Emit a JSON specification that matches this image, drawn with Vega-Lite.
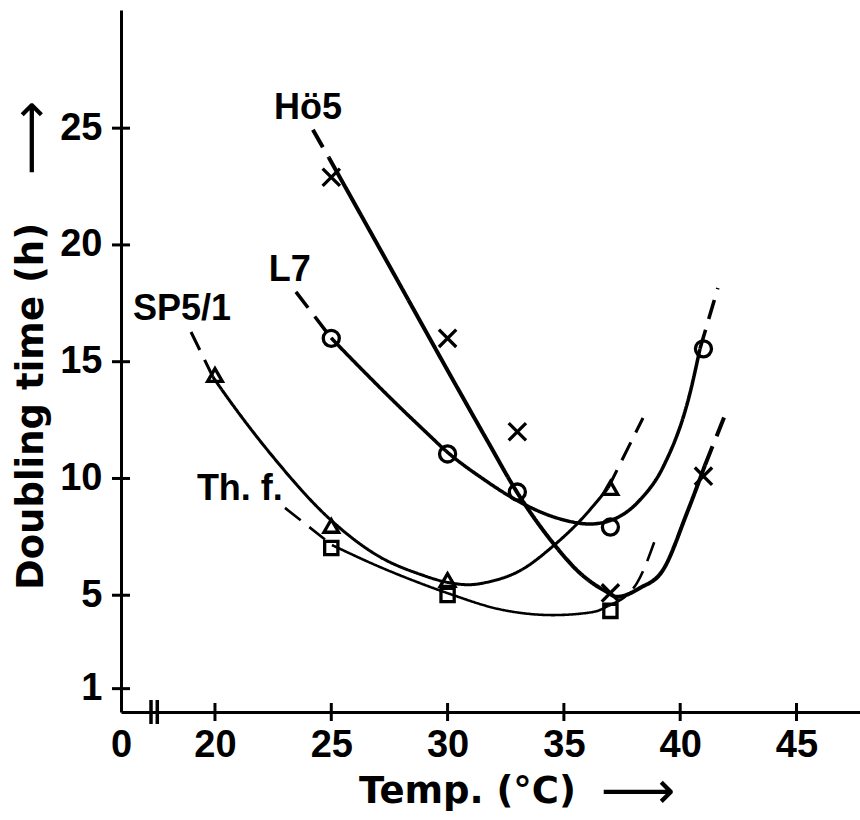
{
  "$schema": "https://vega.github.io/schema/vega-lite/v6.json",
  "width": 739,
  "height": 702,
  "autosize": {"type": "none"},
  "padding": {"left": 121, "top": 10, "right": 0, "bottom": 108},
  "background": "white",
  "config": {"view": {"stroke": null}},
  "datasets": {
    "curves": [
      {"series": "Hö5", "seg": "Hö5-a", "part": "dashed", "temp": 24.21, "time": 24.93},
      {"series": "Hö5", "seg": "Hö5-a", "part": "dashed", "temp": 24.90, "time": 23.73},
      {"series": "Hö5", "seg": "Hö5-b", "part": "solid", "temp": 24.90, "time": 23.73},
      {"series": "Hö5", "seg": "Hö5-b", "part": "solid", "temp": 27.50, "time": 19.10},
      {"series": "Hö5", "seg": "Hö5-b", "part": "solid", "temp": 30.23, "time": 14.22},
      {"series": "Hö5", "seg": "Hö5-b", "part": "solid", "temp": 31.69, "time": 11.65},
      {"series": "Hö5", "seg": "Hö5-b", "part": "solid", "temp": 32.98, "time": 9.42},
      {"series": "Hö5", "seg": "Hö5-b", "part": "solid", "temp": 34.53, "time": 7.24},
      {"series": "Hö5", "seg": "Hö5-b", "part": "solid", "temp": 35.69, "time": 5.95},
      {"series": "Hö5", "seg": "Hö5-b", "part": "solid", "temp": 36.85, "time": 5.14},
      {"series": "Hö5", "seg": "Hö5-b", "part": "solid", "temp": 37.28, "time": 4.93},
      {"series": "Hö5", "seg": "Hö5-b", "part": "solid", "temp": 38.27, "time": 5.31},
      {"series": "Hö5", "seg": "Hö5-b", "part": "solid", "temp": 39.26, "time": 6.08},
      {"series": "Hö5", "seg": "Hö5-b", "part": "solid", "temp": 40.29, "time": 8.52},
      {"series": "Hö5", "seg": "Hö5-b", "part": "solid", "temp": 41.07, "time": 10.58},
      {"series": "Hö5", "seg": "Hö5-c", "part": "dashed", "temp": 41.07, "time": 10.58},
      {"series": "Hö5", "seg": "Hö5-c", "part": "dashed", "temp": 41.93, "time": 12.72},

      {"series": "L7", "seg": "L7-a", "part": "dashed", "temp": 23.48, "time": 17.99},
      {"series": "L7", "seg": "L7-a", "part": "dashed", "temp": 24.99, "time": 16.02},
      {"series": "L7", "seg": "L7-b", "part": "solid", "temp": 24.99, "time": 16.02},
      {"series": "L7", "seg": "L7-b", "part": "solid", "temp": 26.5, "time": 14.48},
      {"series": "L7", "seg": "L7-b", "part": "solid", "temp": 28.0, "time": 13.0},
      {"series": "L7", "seg": "L7-b", "part": "solid", "temp": 29.0, "time": 12.05},
      {"series": "L7", "seg": "L7-b", "part": "solid", "temp": 30.0, "time": 11.12},
      {"series": "L7", "seg": "L7-b", "part": "solid", "temp": 31.5, "time": 10.0},
      {"series": "L7", "seg": "L7-b", "part": "solid", "temp": 33.11, "time": 8.99},
      {"series": "L7", "seg": "L7-b", "part": "solid", "temp": 34.83, "time": 8.27},
      {"series": "L7", "seg": "L7-b", "part": "solid", "temp": 36.12, "time": 8.05},
      {"series": "L7", "seg": "L7-b", "part": "solid", "temp": 37.0, "time": 8.2},
      {"series": "L7", "seg": "L7-b", "part": "solid", "temp": 38.27, "time": 9.08},
      {"series": "L7", "seg": "L7-b", "part": "solid", "temp": 39.27, "time": 10.5},
      {"series": "L7", "seg": "L7-b", "part": "solid", "temp": 40.42, "time": 13.65},
      {"series": "L7", "seg": "L7-b", "part": "solid", "temp": 40.85, "time": 15.55},
      {"series": "L7", "seg": "L7-c", "part": "dashed", "temp": 40.85, "time": 15.55},
      {"series": "L7", "seg": "L7-c", "part": "dashed", "temp": 41.62, "time": 18.16},

      {"series": "SP5/1", "seg": "SP-a", "part": "dashed", "temp": 18.97, "time": 16.27},
      {"series": "SP5/1", "seg": "SP-a", "part": "dashed", "temp": 19.91, "time": 14.35},
      {"series": "SP5/1", "seg": "SP-b", "part": "solid", "temp": 19.91, "time": 14.35},
      {"series": "SP5/1", "seg": "SP-b", "part": "solid", "temp": 20.21, "time": 13.92},
      {"series": "SP5/1", "seg": "SP-b", "part": "solid", "temp": 22.36, "time": 11.09},
      {"series": "SP5/1", "seg": "SP-b", "part": "solid", "temp": 25.07, "time": 8.14},
      {"series": "SP5/1", "seg": "SP-b", "part": "solid", "temp": 27.09, "time": 6.64},
      {"series": "SP5/1", "seg": "SP-b", "part": "solid", "temp": 28.81, "time": 5.9},
      {"series": "SP5/1", "seg": "SP-b", "part": "solid", "temp": 30.0, "time": 5.55},
      {"series": "SP5/1", "seg": "SP-b", "part": "solid", "temp": 30.9, "time": 5.45},
      {"series": "SP5/1", "seg": "SP-b", "part": "solid", "temp": 31.8, "time": 5.58},
      {"series": "SP5/1", "seg": "SP-b", "part": "solid", "temp": 33.11, "time": 6.05},
      {"series": "SP5/1", "seg": "SP-b", "part": "solid", "temp": 34.53, "time": 7.1},
      {"series": "SP5/1", "seg": "SP-b", "part": "solid", "temp": 35.56, "time": 8.05},
      {"series": "SP5/1", "seg": "SP-b", "part": "solid", "temp": 36.9, "time": 9.59},
      {"series": "SP5/1", "seg": "SP-c", "part": "dashed", "temp": 36.9, "time": 9.59},
      {"series": "SP5/1", "seg": "SP-c", "part": "dashed", "temp": 38.40, "time": 12.59},

      {"series": "Th. f.", "seg": "Th-a", "part": "dashed", "temp": 23.01, "time": 8.74},
      {"series": "Th. f.", "seg": "Th-a", "part": "dashed", "temp": 25.03, "time": 7.15},
      {"series": "Th. f.", "seg": "Th-b", "part": "solid", "temp": 25.03, "time": 7.15},
      {"series": "Th. f.", "seg": "Th-b", "part": "solid", "temp": 27.09, "time": 6.21},
      {"series": "Th. f.", "seg": "Th-b", "part": "solid", "temp": 28.81, "time": 5.52},
      {"series": "Th. f.", "seg": "Th-b", "part": "solid", "temp": 29.97, "time": 5.10},
      {"series": "Th. f.", "seg": "Th-b", "part": "solid", "temp": 32.38, "time": 4.37},
      {"series": "Th. f.", "seg": "Th-b", "part": "solid", "temp": 34.53, "time": 4.15},
      {"series": "Th. f.", "seg": "Th-b", "part": "solid", "temp": 36.25, "time": 4.28},
      {"series": "Th. f.", "seg": "Th-b", "part": "solid", "temp": 36.90, "time": 4.54},
      {"series": "Th. f.", "seg": "Th-c", "part": "dashed", "temp": 36.90, "time": 4.54},
      {"series": "Th. f.", "seg": "Th-c", "part": "dashed", "temp": 38.14, "time": 5.52},
      {"series": "Th. f.", "seg": "Th-c", "part": "dashed", "temp": 38.92, "time": 7.37}
    ],
    "points": [
      {"series": "Hö5", "temp": 25, "time": 22.9},
      {"series": "Hö5", "temp": 30, "time": 16.0},
      {"series": "Hö5", "temp": 33, "time": 12.0},
      {"series": "Hö5", "temp": 37, "time": 5.1},
      {"series": "Hö5", "temp": 41, "time": 10.1},
      {"series": "L7", "temp": 25, "time": 16.0},
      {"series": "L7", "temp": 30, "time": 11.05},
      {"series": "L7", "temp": 33, "time": 9.42},
      {"series": "L7", "temp": 37, "time": 7.92},
      {"series": "L7", "temp": 41, "time": 15.55},
      {"series": "SP5/1", "temp": 20, "time": 14.43},
      {"series": "SP5/1", "temp": 25, "time": 7.97},
      {"series": "SP5/1", "temp": 30, "time": 5.65},
      {"series": "SP5/1", "temp": 37, "time": 9.59},
      {"series": "Th. f.", "temp": 25, "time": 7.02},
      {"series": "Th. f.", "temp": 30, "time": 5.01},
      {"series": "Th. f.", "temp": 37, "time": 4.33}
    ],
    "labels": [
      {"label": "Hö5", "temp": 24.0, "time": 25.87},
      {"label": "L7", "temp": 23.22, "time": 18.93},
      {"label": "SP5/1", "temp": 18.58, "time": 17.26},
      {"label": "Th. f.", "temp": 21.07, "time": 9.55}
    ],
    "xarrow": [{"label": "⟶", "temp": 38.19, "time": -3.42}],
    "yarrow": [{"label": "⟶", "temp": 12.15, "time": 24.58}],
    "xticks": [{"temp": 20}, {"temp": 25}, {"temp": 30}, {"temp": 35}, {"temp": 40}, {"temp": 45}],
    "yticks": [{"time": 1}, {"time": 5}, {"time": 10}, {"time": 15}, {"time": 20}, {"time": 25}],
    "breaks": [{"temp": 17.25}, {"temp": 17.52}]
  },
  "layer": [
    {
      "data": {"name": "curves"},
      "mark": {"type": "line", "interpolate": "monotone", "strokeCap": "butt", "color": "black"},
      "encoding": {
        "x": {
          "field": "temp", "type": "quantitative",
          "scale": {"domain": [15.96, 47.73], "nice": false, "zero": false},
          "axis": {
            "values": [15.96, 20, 25, 30, 35, 40, 45],
            "labelExpr": "datum.value < 17 ? '0' : datum.label",
            "ticks": false, "grid": false,
            "domainColor": "black", "domainWidth": 3,
            "labelFont": "Liberation Sans", "labelFontWeight": "bold", "labelFontSize": 38,
            "labelColor": "black", "labelPadding": 14, "labelBaseline": "top",
            "labelFlush": false, "labelOverlap": false,
            "title": "Temp. (°C)",
            "titleFont": "DejaVu Sans", "titleFontWeight": "bold", "titleFontSize": 37, "titleColor": "black",
            "titleX": 346, "titleY": 90, "titleAlign": "center", "titleBaseline": "alphabetic"
          }
        },
        "y": {
          "field": "time", "type": "quantitative",
          "scale": {"domain": [0, 30.06], "nice": false, "zero": false},
          "axis": {
            "values": [1, 5, 10, 15, 20, 25],
            "ticks": false, "grid": false,
            "domainColor": "black", "domainWidth": 3,
            "labelFont": "Liberation Sans", "labelFontWeight": "bold", "labelFontSize": 38,
            "labelColor": "black", "labelPadding": 19, "labelBaseline": "middle",
            "labelOverlap": false, "labelFlush": false,
            "title": "Doubling time (h)",
            "titleFont": "DejaVu Sans", "titleFontWeight": "bold", "titleFontSize": 37, "titleColor": "black",
            "titleAngle": 270, "titleX": -79, "titleY": 396, "titleAlign": "center", "titleBaseline": "alphabetic"
          }
        },
        "detail": {"field": "seg"},
        "strokeDash": {"field": "part", "type": "nominal", "scale": {"domain": ["solid", "dashed"], "range": [[1, 0], [20, 11]]}, "legend": null},
        "strokeWidth": {"field": "series", "type": "nominal", "scale": {"domain": ["Hö5", "L7", "SP5/1", "Th. f."], "range": [4, 2.6, 4, 2.8]}, "legend": null}
      }
    },
    {
      "data": {"name": "points"},
      "mark": {"type": "point", "filled": false, "strokeWidth": 3.3, "color": "black", "opacity": 1},
      "encoding": {
        "x": {"field": "temp", "type": "quantitative"},
        "y": {"field": "time", "type": "quantitative"},
        "shape": {"field": "series", "type": "nominal", "scale": {"domain": ["Hö5", "L7", "SP5/1", "Th. f."], "range": ["M-1,-1L1,1M-1,1L1,-1", "circle", "triangle-up", "square"]}, "legend": null},
        "size": {"field": "series", "type": "nominal", "scale": {"domain": ["Hö5", "L7", "SP5/1", "Th. f."], "range": [300, 175, 460, 400]}, "legend": null}
      }
    },
    {
      "data": {"name": "labels"},
      "mark": {"type": "text", "font": "Liberation Sans", "fontWeight": "bold", "fontSize": 36, "align": "center", "baseline": "middle", "color": "black"},
      "encoding": {
        "x": {"field": "temp", "type": "quantitative"},
        "y": {"field": "time", "type": "quantitative"},
        "text": {"field": "label"}
      }
    },
    {
      "data": {"name": "xarrow"},
      "mark": {"type": "text", "font": "DejaVu Sans", "fontSize": 52, "align": "center", "baseline": "middle", "color": "black"},
      "encoding": {
        "x": {"field": "temp", "type": "quantitative"},
        "y": {"field": "time", "type": "quantitative"},
        "text": {"field": "label"}
      }
    },
    {
      "data": {"name": "yarrow"},
      "mark": {"type": "text", "font": "DejaVu Sans", "fontSize": 52, "align": "center", "baseline": "middle", "angle": 270, "color": "black"},
      "encoding": {
        "x": {"field": "temp", "type": "quantitative"},
        "y": {"field": "time", "type": "quantitative"},
        "text": {"field": "label"}
      }
    },
    {
      "data": {"name": "xticks"},
      "mark": {"type": "tick", "orient": "vertical", "size": 18, "thickness": 3, "color": "black", "opacity": 1},
      "encoding": {
        "x": {"field": "temp", "type": "quantitative"},
        "y": {"datum": 0, "type": "quantitative"}
      }
    },
    {
      "data": {"name": "yticks"},
      "mark": {"type": "tick", "orient": "horizontal", "size": 18, "thickness": 3, "color": "black", "opacity": 1},
      "encoding": {
        "x": {"datum": 15.96, "type": "quantitative"},
        "y": {"field": "time", "type": "quantitative"}
      }
    },
    {
      "data": {"name": "breaks"},
      "mark": {"type": "tick", "orient": "vertical", "size": 24, "thickness": 3.5, "color": "black", "opacity": 1},
      "encoding": {
        "x": {"field": "temp", "type": "quantitative"},
        "y": {"datum": 0, "type": "quantitative"}
      }
    }
  ]
}
